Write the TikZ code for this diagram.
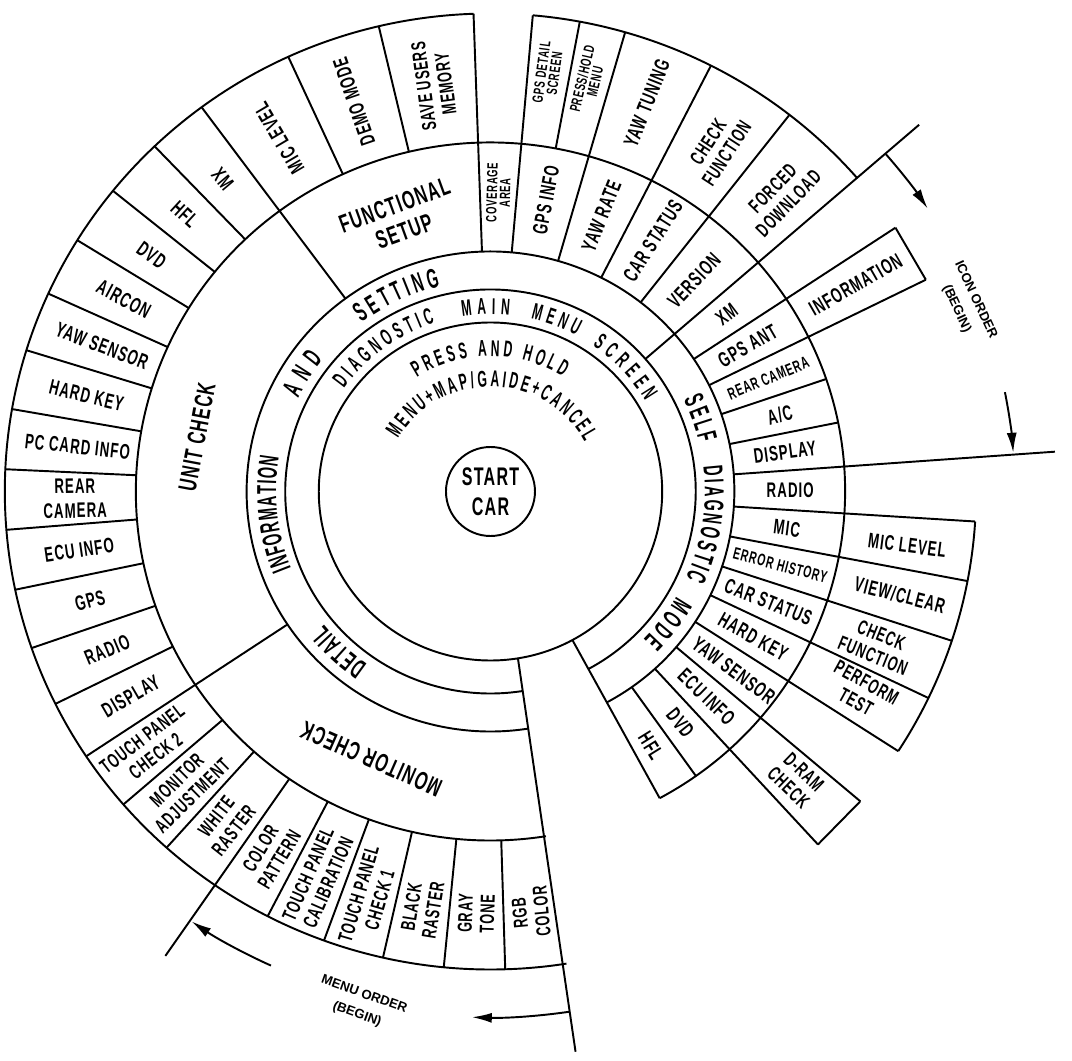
\documentclass[tikz,border=0pt]{standalone}
\usepackage{fontspec}
\newfontfamily\cadfont{Liberation Sans}[FakeStretch=0.63,LetterSpace=5]
\newfontfamily\ringfont{Liberation Sans}[FakeStretch=0.53]
\newfontfamily\orderfont{Liberation Sans}
\usetikzlibrary{arrows.meta,decorations.text}
\tikzset{
  itemtext/.style={font=\cadfont\bfseries\fontsize{12}{14}\selectfont, align=center, inner sep=0pt},
  pairtext/.style={font=\cadfont\bfseries\fontsize{11.5}{12.5}\selectfont, align=center, inner sep=0pt},
  midtext/.style={font=\cadfont\bfseries\fontsize{9.5}{10}\selectfont, align=center, inner sep=0pt},
  smalltext/.style={font=\cadfont\bfseries\fontsize{8.5}{7.5}\selectfont, align=center, inner sep=0pt},
  headtext/.style={font=\cadfont\bfseries\fontsize{14.5}{16}\selectfont, align=center, inner sep=0pt},
  ordertext/.style={font=\orderfont\bfseries\fontsize{7.5}{12}\selectfont, align=center, inner sep=0pt},
  outerword/.style={decorate, decoration={text along path, text align={fit to path},
    text={|\ringfont\bfseries\fontsize{15.6}{16}\selectfont|#1}}},
  innerword/.style={decorate, decoration={text along path, text align={fit to path},
    text={|\ringfont\bfseries\fontsize{13}{14}\selectfont|#1}}},
}
\begin{document}
\begin{tikzpicture}[x=1.016cm, y=1cm, line width=1.1pt, >={Latex[length=4mm,width=2mm]}]
\useasboundingbox (-9.655,-11.37) rectangle (11.447,9.83);

\node[circle, draw, minimum size=1.78cm, headtext, font=\cadfont\bfseries\fontsize{14.5}{17}\selectfont] (start) at (0,0) {START\\CAR};
\draw (0,0) circle[radius=3.38];
\draw (-61.5:4.04) arc[start angle=-61.5, end angle=279, radius=4.04];
\draw (-61.5:4.8) arc[start angle=-61.5, end angle=279, radius=4.8];
\draw (-61.5:6.98) arc[start angle=-61.5, end angle=279, radius=6.98];
\draw (92:9.56) arc[start angle=92, end angle=279, radius=9.56];
\draw (41:9.56) arc[start angle=41, end angle=85, radius=9.56];
\draw (-32.9:9.56) arc[start angle=-32.9, end angle=-3.6, radius=9.56];

\foreach \a in {133.76,141.02,148.29,155.55,162.81,170.07,177.33,184.6,191.86,199.12,206.38,220.9,228.17,242.69,249.95,257.21,264.48,271.74}
  \draw (\a:6.98) -- (\a:9.56);
\draw (126.5:4.8) -- (126.5:9.56);
\draw (213.64:4.8) -- (213.64:9.56);
\draw (235.43:6.98) -- (235.43:11.28);
\draw (279.2:3.38) -- (278.5:11.33);
\draw (92:4.8) -- (92:9.56);
\draw (103.3:6.98) -- (103.3:9.56);
\draw (114.6:6.98) -- (114.6:9.56);
\foreach \a in {85,73.9,63,52}
  \draw (\a:4.8) -- (\a:9.56);
\draw (79.4:6.98) -- (79.4:9.56);
\draw (41:4.04) -- (41:11.18);
\foreach \a in {33.5,26.3,-3.6,-10.8,-18.2,-25.6,-32.9,-40.4,-47.6}
  \draw (\a:4.8) -- (\a:9.56);
\foreach \a in {18.8,11.4,-54.6}
  \draw (\a:4.8) -- (\a:6.98);
\draw (4.1:4.8) -- (4.1:11.14);
\draw (-61.5:3.38) -- (-61.5:6.98);
\draw (33.5:9.56) -- (26.3:9.56);
\draw (-40.4:9.56) -- (-47.6:9.56);

\draw[->] (40.9:10.3) arc[start angle=40.9, end angle=33.3, radius=10.3];
\draw[->] (11.1:10.32) arc[start angle=11.1, end angle=4.3, radius=10.32];
\draw[->] (245.5:10.42) arc[start angle=245.5, end angle=235.6, radius=10.42];
\draw[->] (278.5:10.52) arc[start angle=278.5, end angle=268, radius=10.52];
\node[ordertext, rotate=-65] (iconorder) at (21.8:10.08) {ICON ORDER\\(BEGIN)};
\node[ordertext, rotate=-19.7] (menuorder) at (256:10.58) {MENU ORDER\\(BEGIN)};

\path[outerword=DETAIL] (235:4.22) arc[start angle=235, end angle=219, radius=4.22];
\path[outerword=INFORMATION] (201.5:4.22) arc[start angle=201.5, end angle=170.5, radius=4.22];
\path[outerword=AND] (153.8:4.22) arc[start angle=153.8, end angle=141.3, radius=4.22];
\path[outerword=SETTING] (127:4.22) arc[start angle=127, end angle=103.5, radius=4.22];
\path[outerword=SELF] (25.8:4.22) arc[start angle=25.8, end angle=13.2, radius=4.22];
\path[outerword=DIAGNOSTIC] (6.8:4.22) arc[start angle=6.8, end angle=-24.2, radius=4.22];
\path[outerword=MODE] (-29.8:4.22) arc[start angle=-29.8, end angle=-44.5, radius=4.22];
\path[innerword=DIAGNOSTIC] (144.6:3.54) arc[start angle=144.6, end angle=108, radius=3.54];
\path[innerword=MAIN] (99:3.54) arc[start angle=99, end angle=84, radius=3.54];
\path[innerword=MENU] (77:3.54) arc[start angle=77, end angle=61.5, radius=3.54];
\path[innerword=SCREEN] (55.4:3.54) arc[start angle=55.4, end angle=30.6, radius=3.54];
\path[innerword={PRESS AND HOLD}] (122.5:2.7) arc[start angle=122.5, end angle=58, radius=2.7];
\path[innerword={MENU+MAP/GAIDE+CANCEL}] (150:2.1) arc[start angle=150, end angle=28, radius=2.1];

\node[headtext, rotate=20] (functional) at (108.2:5.75) {FUNCTIONAL\\SETUP};
\node[headtext, rotate=79.3] (unitcheck) at (169.3:5.88) {UNIT CHECK};
\node[headtext, rotate=156.3] (monitorcheck) at (246.3:5.84) {MONITOR CHECK};

\node[pairtext, rotate=97.7] (saveusers) at (97.7:8.2) {SAVE USERS\\MEMORY};
\node[itemtext, rotate=109] (demomode) at (109:8.25) {DEMO MODE};
\node[itemtext, rotate=120.5] (miclevel) at (120.5:8.2) {MIC LEVEL};

\node[smalltext, rotate=88.5] (coverage) at (88.5:5.98) {COVERAGE\\AREA};
\node[itemtext, rotate=79.4] (gpsinfo) at (79.4:5.93) {GPS INFO};
\node[itemtext, rotate=68.4] (yawrate) at (68.4:5.93) {YAW RATE};
\node[itemtext, rotate=57.5] (carstatus) at (57.5:5.95) {CAR STATUS};
\node[itemtext, rotate=46.5] (version) at (46.5:5.82) {VERSION};
\node[smalltext, rotate=82.3] (gpsdetail) at (82.3:8.45) {GPS DETAIL\\SCREEN};
\node[smalltext, rotate=76.8] (presshold) at (76.8:8.45) {PRESS/HOLD\\MENU};
\node[itemtext, rotate=68.4] (yawtuning) at (68.4:8.36) {YAW TUNING};
\node[pairtext, rotate=57] (checkfunction) at (57:8.2) {CHECK\\FUNCTION};
\node[pairtext, rotate=46] (forced) at (46:8.22) {FORCED\\DOWNLOAD};

\node[itemtext, rotate=37.25] (xmdiag) at (37.25:5.84) {XM};
\node[itemtext, rotate=29.9] (gpsant) at (29.9:5.84) {GPS ANT};
\node[itemtext, rotate=29.9] (information) at (29.9:8.29) {INFORMATION};
\node[midtext, rotate=22.5] (reardiag) at (22.5:5.92) {REAR CAMERA};
\node[itemtext, rotate=15.1] (ac) at (15.1:5.9) {A/C};
\node[itemtext, rotate=7.7] (displaydiag) at (7.7:5.85) {DISPLAY};
\node[itemtext, rotate=0.2] (radiodiag) at (0.2:5.9) {RADIO};
\node[itemtext, rotate=-7.2] (mic) at (-7.2:5.88) {MIC};
\node[midtext, rotate=-14.5] (errorhistory) at (-14.5:5.89) {ERROR HISTORY};
\node[itemtext, rotate=-22] (cardiag) at (-22:5.9) {CAR STATUS};
\node[itemtext, rotate=-29.3] (harddiag) at (-29.3:5.93) {HARD KEY};
\node[itemtext, rotate=-36.8] (yawdiag) at (-36.8:5.98) {YAW SENSOR};
\node[itemtext, rotate=-44] (ecudiag) at (-44:5.91) {ECU INFO};
\node[itemtext, rotate=-51.1] (dvddiag) at (-51.1:5.95) {DVD};
\node[itemtext, rotate=-58.2] (hfldiag) at (-58.2:5.99) {HFL};
\node[itemtext, rotate=-7.5] (micleveldiag) at (-7.5:8.27) {MIC LEVEL};
\node[itemtext, rotate=-14.4] (viewclear) at (-14.4:8.32) {VIEW/CLEAR};
\node[pairtext, rotate=-22] (checkdiag) at (-22:8.21) {CHECK\\FUNCTION};
\node[pairtext, rotate=-28.8] (perform) at (-28.8:8.33) {PERFORM\\TEST};
\node[pairtext, rotate=-44] (dram) at (-43.8:8.34) {D-RAM\\CHECK};

\foreach \a/\name [count=\i] in {130.13/XM,137.39/HFL,144.66/DVD,151.92/AIRCON,159.18/YAW SENSOR,166.44/HARD KEY,173.7/PC CARD INFO,180.97/REAR\\CAMERA,188.23/ECU INFO,195.49/GPS,202.75/RADIO,210.01/DISPLAY}
  \node[itemtext, rotate=\a-180] (unit\i) at (\a:8.18) {\name};
\foreach \a/\name [count=\i] in {217.27/TOUCH PANEL\\CHECK 2,224.54/MONITOR\\ADJUSTMENT,231.8/WHITE\\RASTER,239.06/COLOR\\PATTERN,246.32/TOUCH PANEL\\CALIBRATION,253.58/TOUCH PANEL\\CHECK 1,260.85/BLACK\\RASTER,268.11/GRAY\\TONE,275.37/RGB\\COLOR}
  \node[pairtext, rotate=\a-180] (monitor\i) at (\a:8.45) {\name};
\end{tikzpicture}
\end{document}
